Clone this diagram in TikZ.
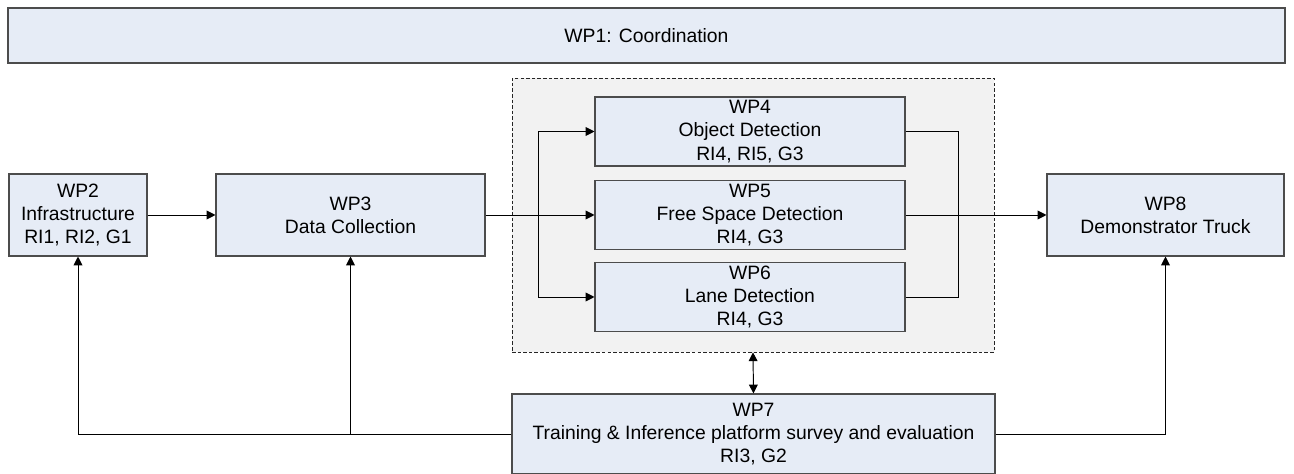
\documentclass[tikz,border=0pt]{standalone}
\usepackage{fontspec}
\setmainfont{Liberation Sans}
\usetikzlibrary{arrows.meta}
\definecolor{wpblue}{RGB}{230,236,246}
\definecolor{wpgrey}{RGB}{242,242,242}

\begin{document}
\begin{tikzpicture}[font=\fontsize{11}{13.2}\selectfont, line width=0.55pt, >={Triangle[length=5pt,width=5pt]},
  block/.style={rectangle, draw=black!70, line width=0.6pt, fill=wpblue, align=center, inner sep=0pt},
  group/.style={rectangle, draw=black!85, line width=0.45pt, dash pattern=on 2pt off 1.2pt, fill=wpgrey, inner sep=0pt}]

    \useasboundingbox (0,0) rectangle (25.88,-9.48);

    \node[block, minimum width=25.54cm, minimum height=1.10cm] (wp1) at (12.93,-0.71) {WP1: Coordination};

    \node[block, minimum width=2.76cm, minimum height=1.64cm] (wp2) at (1.56,-4.30) {WP2\\Infrastructure\\RI1, RI2, G1};
    \node[block, minimum width=5.38cm, minimum height=1.64cm] (wp3) at (7.01,-4.30) {WP3\\Data Collection};

    \node[group, minimum width=9.64cm, minimum height=5.48cm] (detect) at (15.06,-4.30) {};
    \node[block, minimum width=6.20cm, minimum height=1.38cm] (wp4) at (15.00,-2.63) {WP4\\Object Detection\\RI4, RI5, G3};
    \node[block, minimum width=6.20cm, minimum height=1.38cm] (wp5) at (15.00,-4.30) {WP5\\Free Space Detection\\RI4, G3};
    \node[block, minimum width=6.20cm, minimum height=1.38cm] (wp6) at (15.00,-5.94) {WP6\\Lane Detection\\RI4, G3};

    \node[block, minimum width=4.74cm, minimum height=1.64cm] (wp8) at (23.31,-4.30) {WP8\\Demonstrator Truck};
    \node[block, minimum width=9.66cm, minimum height=1.60cm] (wp7) at (15.07,-8.68) {WP7\\Training \& Inference platform survey and evaluation\\RI3, G2};

    \coordinate (split) at (10.76,-4.30);
    \coordinate (join) at (19.16,-4.30);

    \draw[->] (wp2) -- (wp3);
    \draw (wp3) -- (split);
    \draw[->] (split) -- (wp5);
    \draw[->] (split) |- (wp4);
    \draw[->] (split) |- (wp6);

    \draw (wp4.east) -| (join);
    \draw (wp6.east) -| (join);
    \draw (wp5.east) -- (join);
    \draw[->] (join) -- (wp8);

    \draw[<->] (wp7.north) -- (detect.south);
    \draw[->] (wp7.west) -| (wp2.south);
    \draw[->] (wp7.west) -| (wp3.south);
    \draw[->] (wp7.east) -| (wp8.south);

\end{tikzpicture}
\end{document}
